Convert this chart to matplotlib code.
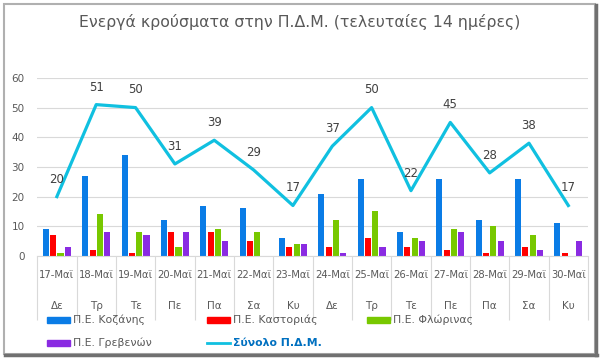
import numpy as np
import matplotlib.pyplot as plt
from matplotlib.patches import Rectangle
from matplotlib.lines import Line2D

dates = ['17-Μαϊ', '18-Μαϊ', '19-Μαϊ', '20-Μαϊ', '21-Μαϊ', '22-Μαϊ', '23-Μαϊ',
         '24-Μαϊ', '25-Μαϊ', '26-Μαϊ', '27-Μαϊ', '28-Μαϊ', '29-Μαϊ', '30-Μαϊ']
days = ['Δε', 'Τρ', 'Τε', 'Πε', 'Πα', 'Σα', 'Κυ', 'Δε', 'Τρ', 'Τε', 'Πε', 'Πα', 'Σα', 'Κυ']

kozani = [9, 27, 34, 12, 17, 16, 6, 21, 26, 8, 26, 12, 26, 11]
kastoria = [7, 2, 1, 8, 8, 5, 3, 3, 6, 3, 2, 1, 3, 1]
florina = [1, 14, 8, 3, 9, 8, 4, 12, 15, 6, 9, 10, 7, 0]
grevena = [3, 8, 7, 8, 5, 0, 4, 1, 3, 5, 8, 5, 2, 5]
total = [20, 51, 50, 31, 39, 29, 17, 37, 50, 22, 45, 28, 38, 17]

series = [('Π.Ε. Κοζάνης', kozani, '#0a7ce6'),
          ('Π.Ε. Καστοριάς', kastoria, '#ff0000'),
          ('Π.Ε. Φλώρινας', florina, '#78c800'),
          ('Π.Ε. Γρεβενών', grevena, '#8a2be2')]
line_color = '#10c0e0'
text_gray = '#595959'

plt.rcParams['font.family'] = ['DejaVu Sans']

fig = plt.figure(figsize=(6, 3.59), dpi=100)
ax = fig.add_axes([0.062, 0.287, 0.918, 0.496])

x = np.arange(len(dates))
w = 0.155
step = 0.185
for i, (name, vals, col) in enumerate(series):
    ax.bar(x + (i - 1.5) * step, vals, width=w, color=col, zorder=2)

ax.plot(x, total, color=line_color, lw=2.3, zorder=3)
for xi, v in zip(x, total):
    ax.annotate(str(v), (xi, v), xytext=(0, 8), textcoords='offset points',
                ha='center', va='bottom', fontsize=8.5, color='#404040', zorder=4)

ax.set_xlim(-0.5, len(dates) - 0.5)
ax.set_ylim(0, 60)
ax.set_yticks(range(0, 61, 10))
ax.yaxis.grid(True, color='#d9d9d9', lw=0.8, zorder=0)
ax.set_axisbelow(True)
for s in ['top', 'right', 'left']:
    ax.spines[s].set_visible(False)
ax.spines['bottom'].set_color('#d9d9d9')
ax.tick_params(axis='y', length=0, labelsize=7.5, labelcolor=text_gray, pad=9)
ax.set_xticks([])

# two-level category axis
trans = ax.get_xaxis_transform()
ax.vlines(np.arange(-0.5, len(dates)), -0.36, 0, transform=trans,
          color='#d9d9d9', lw=0.8, clip_on=False)
for xi, d, dy in zip(x, dates, days):
    ax.text(xi, -0.105, d, transform=trans, ha='center', va='center',
            fontsize=7.2, color=text_gray)
    ax.text(xi, -0.28, dy, transform=trans, ha='center', va='center',
            fontsize=7.5, color=text_gray)

fig.text(0.5, 0.94, 'Ενεργά κρούσματα στην Π.Δ.Μ. (τελευταίες 14 ημέρες)',
         ha='center', va='center', fontsize=11.3, color=text_gray)

# legend drawn manually
legend_items = [(47, 320, series[0]), (207, 320, series[1]), (367, 320, series[2]),
                (47, 343, series[3])]
for px, py, (name, vals, col) in legend_items:
    fig.patches.append(Rectangle((px / 600, 1 - (py + 3) / 359), 23 / 600, 6 / 359,
                                 transform=fig.transFigure, color=col))
    fig.text((px + 26) / 600, 1 - py / 359, name, ha='left', va='center',
             fontsize=7.8, color=text_gray)
fig.lines.append(Line2D([207 / 600, 230 / 600], [1 - 343 / 359] * 2,
                        transform=fig.transFigure, color=line_color, lw=2))
fig.text(233 / 600, 1 - 343 / 359, 'Σύνολο Π.Δ.Μ.', ha='left', va='center',
         fontsize=7.8, color='#0070c0', fontweight='bold')

# outer frame
fig.patches.append(Rectangle((4 / 600, 5 / 359), 591 / 600, 350 / 359,
                             transform=fig.transFigure, fill=False,
                             edgecolor='#b0b0b0', lw=1.5))
fig.lines.append(Line2D([596 / 600] * 2, [4 / 359, 354 / 359],
                        transform=fig.transFigure, color='#707070', lw=2.5))
fig.lines.append(Line2D([5 / 600, 597 / 600], [4 / 359] * 2,
                        transform=fig.transFigure, color='#707070', lw=2.5))

fig.savefig('out.png', dpi=100)
